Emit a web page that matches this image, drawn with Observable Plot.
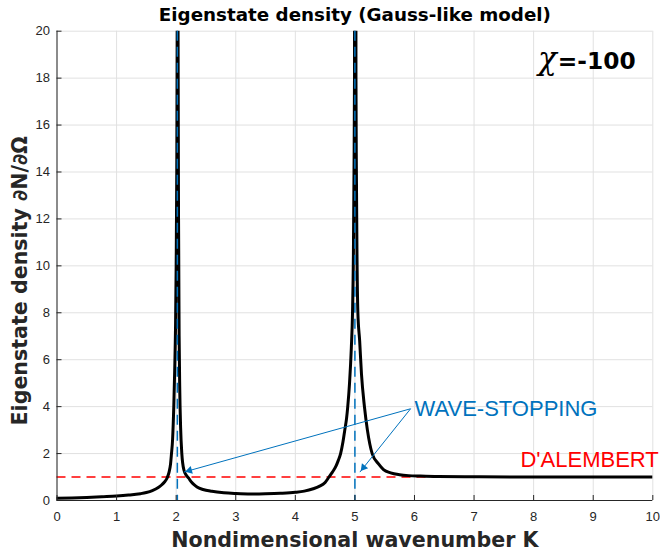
<!DOCTYPE html>
<html><head><meta charset="utf-8">
<script src="https://cdn.jsdelivr.net/npm/d3@7"></script>
<script src="https://cdn.jsdelivr.net/npm/@observablehq/plot@0.6"></script>
<style>
html,body{margin:0;padding:0;background:#fff}
#chart svg{display:block}
</style>
</head><body><div id="chart"></div>
<script>
// ---- data ----
const wavenumberK = [0,0.25,0.5,0.75,1.0,1.2,1.4,1.5,1.6,1.7,1.75,1.8,1.85,1.88,1.906,1.92,1.94,1.96,1.975,1.99,2.0,2.01,2.017,2.022,
  2.028,2.032,2.04,2.05,2.06,2.075,2.095,2.13,2.17,2.21,2.26,2.3,2.35,2.45,2.6,2.8,3.0,3.25,3.5,3.75,4.0,4.15,4.3,4.4,4.5,4.56,
  4.62,4.68,4.72,4.76,4.8,4.83,4.86,4.88,4.91,4.94,4.96,4.975,4.985,4.993,5.0,
  5.01,5.018,5.025,5.035,5.05,5.08,5.11,5.16,5.21,5.29,5.4,5.48,5.6,5.75,5.9,6.1,6.4,7,8,10];
const density = [0.10,0.11,0.13,0.16,0.19,0.23,0.29,0.34,0.42,0.55,0.65,0.78,0.97,1.2,1.56,1.95,2.6,4.0,5.5,7.5,10,14,20,40,
  40,20,12,7,4.8,3.1,2.0,1.3,1.08,0.95,0.78,0.68,0.58,0.47,0.39,0.33,0.30,0.28,0.29,0.31,0.35,0.40,0.50,0.60,0.77,0.98,
  1.2,1.45,1.7,2.0,2.5,3.0,3.5,4.0,5.0,6.5,8.0,10.5,14,18,40,
  40,18,14,10.5,8,6.8,5.4,4.0,3.0,2.0,1.55,1.32,1.18,1.1,1.06,1.04,1.02,1.01,1.0,1.0];
const xTicks = [0,1,2,3,4,5,6,7,8,9,10];
const yTicks = [0,2,4,6,8,10,12,14,16,18,20];
const wavestopK = [2.02, 5.0];
const dalembertLevel = [1];
const arrowTail = {k: 5.935, y: 3.91};
const arrowTipK = [2.129, 5.084];
const arrowTipY = [1.21, 1.21];
const waveLabel = {text: "WAVE-STOPPING", k: 6.0, y: 3.62};
const dalembertLabel = {text: "D'ALEMBERT", k: 10.1, y: 1.42};
const titleText = "Eigenstate density (Gauss-like model)";
const xLabel = "Nondimensional wavenumber K";
const yLabel = "Eigenstate density \u2202N/\u2202\u03A9";
const chiSymbol = "\u03C7";
const chiValue = "=-100";

// ---- layout ----
const W = 660, H = 552;
const mL = 56.5, mR = 7.7, mT = 30.7, mB = 52;
const innerW = W - mL - mR, innerH = H - mT - mB;
const blue = "#0072BD", red = "#FF0000", axisCol = "#262626", gridCol = "#e1e1e1";
const boldFont = "DejaVu Sans, Liberation Sans, sans-serif";

const curve = wavenumberK.map((k, i) => ({k, y: density[i]}));
const arrows = arrowTipK.map((k, i) => ({x1: arrowTail.k, y1: arrowTail.y, x2: k, y2: arrowTipY[i]}));

function build(heads) {
  return Plot.plot({
    width: W, height: H,
    marginLeft: mL, marginRight: mR, marginTop: mT, marginBottom: mB,
    x: {domain: [0, 10], label: null},
    y: {domain: [0, 20], label: null},
    style: {fontFamily: "Liberation Sans, Arial, sans-serif", fontSize: "13px", color: axisCol, background: "#fff", overflow: "visible"},
    marks: [
      Plot.gridX(xTicks, {stroke: gridCol, strokeOpacity: 1}),
      Plot.gridY(yTicks, {stroke: gridCol, strokeOpacity: 1}),
      Plot.ruleY(dalembertLevel, {stroke: red, strokeWidth: 1.5, strokeDasharray: "9,6"}),
      Plot.line(curve, {x: "k", y: "y", stroke: "#000", strokeWidth: 3, clip: true, strokeLinejoin: "round", curve: "monotone-x"}),
      Plot.ruleX(wavestopK, {stroke: blue, strokeWidth: 1.5, strokeDasharray: "10,6"}),
      Plot.ruleX([0], {stroke: axisCol, strokeWidth: 1}),
      Plot.ruleY([0], {stroke: axisCol, strokeWidth: 1}),
      Plot.tickX(xTicks, {x: d => d, stroke: axisCol, insetTop: innerH - 5}),
      Plot.tickY(yTicks, {y: d => d, stroke: axisCol, insetRight: innerW - 5}),
      Plot.axisX(xTicks, {tickSize: 0, tickPadding: 11, fontSize: 13, label: null}),
      Plot.axisY(yTicks, {tickSize: 0, tickPadding: 7, fontSize: 13, label: null}),
      Plot.link(arrows, {x1: "x1", y1: "y1", x2: "x2", y2: "y2", stroke: blue, strokeWidth: 1}),
      Plot.dot(heads, {x: "x", y: "y", rotate: "rot", symbol: "triangle2", r: 3.8, fill: blue, stroke: "none"}),
      Plot.text([waveLabel], {x: "k", y: "y", text: "text", textAnchor: "start", lineAnchor: "bottom", fill: blue, fontSize: 22}),
      Plot.text([dalembertLabel], {x: "k", y: "y", text: "text", textAnchor: "end", lineAnchor: "bottom", fill: red, fontSize: 22}),
      Plot.text([titleText], {text: d => d, frameAnchor: "top", dy: -10, lineAnchor: "bottom", textAnchor: "middle", fill: "#000", fontFamily: boldFont, fontWeight: "bold", fontSize: 18.3}),
      Plot.text([xLabel], {text: d => d, frameAnchor: "bottom", dy: 46, lineAnchor: "bottom", textAnchor: "middle", fill: axisCol, fontFamily: boldFont, fontWeight: "bold", fontSize: 20.6}),
      Plot.text([yLabel], {text: d => d, frameAnchor: "left", rotate: -90, dx: -30, dy: 15, lineAnchor: "bottom", textAnchor: "middle", fill: axisCol, fontFamily: boldFont, fontWeight: "bold", fontSize: 20.6}),
      Plot.text([chiSymbol], {text: d => d, frameAnchor: "top-right", dx: -96, dy: 37.6, lineAnchor: "bottom", textAnchor: "end", fill: "#000", fontFamily: "DejaVu Serif, serif", fontStyle: "italic", fontSize: 31}),
      Plot.text([chiValue], {text: d => d, frameAnchor: "top-right", dx: -95, dy: 37.6, lineAnchor: "bottom", textAnchor: "start", fill: "#000", fontFamily: boldFont, fontWeight: "bold", fontSize: 23.3})
    ]
  });
}

// first pass: obtain the scales, then place filled arrowheads along each arrow
const probe = build([]);
const xs = probe.scale("x"), ys = probe.scale("y");
const sx = d3.scaleLinear(xs.domain, xs.range), sy = d3.scaleLinear(ys.domain, ys.range);
const r = 3.8;
const tipDist = 2 * Math.sqrt(Math.PI * r * r / (3 * Math.sqrt(3)));
const heads = arrows.map(a => {
  const tx = sx(a.x2), ty = sy(a.y2), fx = sx(a.x1), fy = sy(a.y1);
  const len = Math.hypot(tx - fx, ty - fy);
  const ux = (tx - fx) / len, uy = (ty - fy) / len;
  const cx = tx - ux * tipDist, cy = ty - uy * tipDist;
  return {x: sx.invert(cx), y: sy.invert(cy), rot: Math.atan2(uy, ux) * 180 / Math.PI + 90};
});
document.getElementById("chart").append(build(heads));
</script>
</body></html>
